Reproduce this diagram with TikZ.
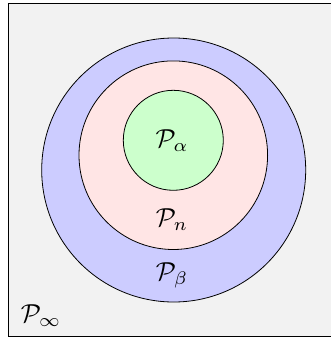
\documentclass[tikz,border=0pt]{standalone}
\usepackage{amsmath}
\usepackage{amssymb}
\usepackage{tikz}
\usepackage{xcolor}

\begin{document}
\begin{tikzpicture}[x=1pt, y=-1pt, lbl/.style={scale=2.6}]
% Picture size
\clip (0,0) rectangle (331,338);

% Draw frame
\fill[gray!10] (8.6,3.6) rectangle (345,336.4);
\draw[line width=1.3pt] (345,3.6) -- (8.6,3.6) -- (8.6,336.4) -- (345,336.4);

% Sets
\draw[line width=0.8pt, fill=blue!20] (173.7,170) coordinate(Cb) circle (132pt);
\draw[line width=0.8pt, fill=red!10] (173.3,155.2) coordinate(Cn) circle (94.3pt);
\draw[line width=0.8pt, fill=green!20] (173.3,140.3) coordinate(Ca) circle (50pt);

% Labels
\node[lbl] (Pa) at (172,141) {$\mathcal{P}_\alpha$};
\node[lbl] (Pn) at (172,220) {$\mathcal{P}_n$};
\node[lbl] (Pb) at (172,275) {$\mathcal{P}_\beta$};
\node[lbl] (Pinf) at (41,316) {$\mathcal{P}_\infty$};
\end{tikzpicture}
\end{document}
